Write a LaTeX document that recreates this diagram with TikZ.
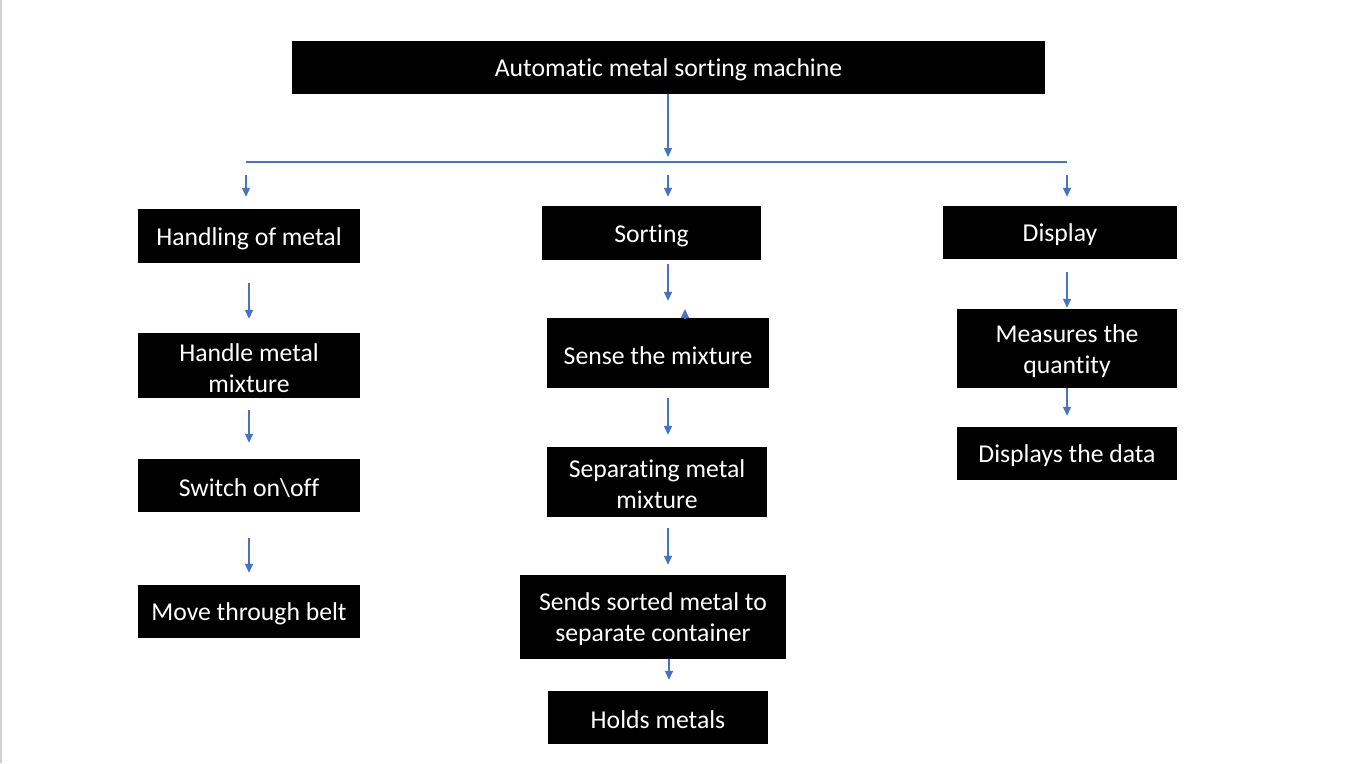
\documentclass[tikz,border=0pt]{standalone}
\usepackage{fontspec}
\setmainfont{Carlito}[Ligatures=NoCommon]
\usetikzlibrary{arrows.meta}
\definecolor{arrowblue}{HTML}{4472C4}
\begin{document}
\begin{tikzpicture}[x=1pt,y=-1pt,
  box/.style={fill=black, inner sep=0pt},
  lbl/.style={text=white, inner sep=0pt, align=center, yshift=-2.5pt,
    font=\fontsize{25.7}{31}\selectfont},
  link/.style={draw=arrowblue, line width=1.3pt},
  arr/.style={link, -{Triangle[length=9pt,width=8pt]}}]
\useasboundingbox (0,0) rectangle (1372,763);
\fill[white] (0,0) rectangle (1372,763);
\draw[black!18, line width=1.6pt] (1,0) -- (1,763);
% nodes
\node[box, minimum width=753pt, minimum height=53pt, label={[lbl]center:Automatic metal sorting machine}] (top) at (668.5,67.5) {};
\node[box, minimum width=222pt, minimum height=54pt, label={[lbl]center:Handling of metal}] (handling) at (249,236) {};
\node[box, minimum width=219pt, minimum height=54pt, label={[lbl]center:Sorting}] (sorting) at (651.5,233) {};
\node[box, minimum width=234pt, minimum height=53pt, label={[lbl]center:Display}] (display) at (1060,232.5) {};
\node[box, minimum width=222pt, minimum height=65pt, label={[lbl]center:{Handle metal\\mixture}}] (hmm) at (249,365.5) {};
\node[box, minimum width=222pt, minimum height=53pt, label={[lbl]center:Switch on\textbackslash off}] (switch) at (249,485.5) {};
\node[box, minimum width=222pt, minimum height=53pt, label={[lbl]center:Move through belt}] (move) at (249,611.5) {};
\node[box, minimum width=222pt, minimum height=70pt, label={[lbl]center:Sense the mixture}] (sense) at (658,353) {};
\node[box, minimum width=220pt, minimum height=70pt, label={[lbl]center:{Separating metal\\mixture}}] (separating) at (657,482) {};
\node[box, minimum width=266pt, minimum height=84pt, label={[lbl]center:{Sends sorted metal to\\separate container}}] (sends) at (653,617) {};
\node[box, minimum width=220pt, minimum height=53pt, label={[lbl]center:Holds metals}] (holds) at (658,717.5) {};
\node[box, minimum width=220pt, minimum height=79pt, label={[lbl]center:{Measures the\\quantity}}] (measures) at (1067,348.5) {};
\node[box, minimum width=220pt, minimum height=53pt, label={[lbl]center:Displays the data}] (displays) at (1067,453.5) {};
% coordinates
\coordinate (busL) at (246,162);
\coordinate (busR) at (1067,162);
\coordinate (colM) at (668,162);
\coordinate (colS) at (669,0);
\coordinate (stray) at (685,309);
% connectors
\draw[arr, shorten >=5pt] (top.south -| colM) -- (colM);
\draw[link] (busL) -- (busR);
\draw[arr, shorten <=13pt, shorten >=12pt] (busL) -- (handling.north -| busL);
\draw[arr, shorten <=13pt, shorten >=9pt] (colM) -- (sorting.north -| colM);
\draw[arr, shorten <=13pt, shorten >=9pt] (busR) -- (display.north -| busR);
% left column
\draw[arr, shorten <=20pt, shorten >=14pt] (handling.south) -- (hmm.north);
\draw[arr, shorten <=12pt, shorten >=16pt] (hmm.south) -- (switch.north);
\draw[arr, shorten <=26pt, shorten >=12pt] (switch.south) -- (move.north);
% middle column
\draw[arr, shorten <=4pt, shorten >=17pt] (sorting.south -| colM) -- (sense.north -| colM);
\draw[arr] (sense.north -| stray) -- (stray);
\draw[arr, shorten <=10pt, shorten >=12pt] (sense.south -| colM) -- (separating.north -| colM);
\draw[arr, shorten <=11pt, shorten >=10pt] (separating.south -| colM) -- (sends.north -| colM);
\draw[arr, shorten >=11pt] (sends.south -| colS) -- (holds.north -| colS);
% right column
\draw[arr, shorten <=13pt, shorten >=1pt] (display.south -| busR) -- (measures.north -| busR);
\draw[arr, shorten >=11pt] (measures.south) -- (displays.north);
\end{tikzpicture}
\end{document}
